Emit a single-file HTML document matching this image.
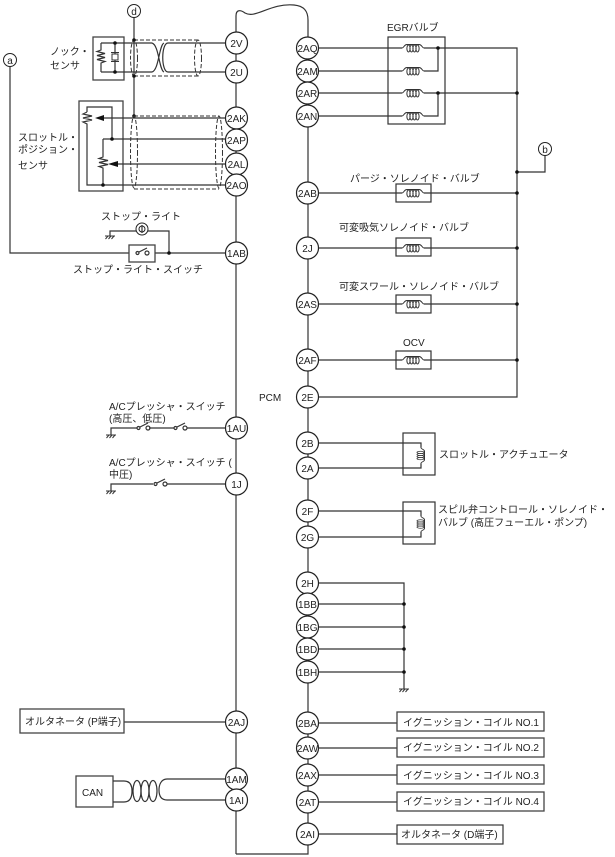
<!DOCTYPE html>
<html><head><meta charset="utf-8"><style>
html,body{margin:0;padding:0;background:#fff;width:615px;height:857px;overflow:hidden}
svg{display:block}
text{font-family:"Liberation Sans","Noto Sans CJK JP",sans-serif;font-size:10px;fill:#222}
.c text,text.c{text-anchor:middle}
.w{fill:none;stroke:#333;stroke-width:1.2}
.t{fill:none;stroke:#333;stroke-width:1}
.d{fill:none;stroke:#333;stroke-width:1;stroke-dasharray:4 2}
.n circle{fill:#fff;stroke:#222;stroke-width:1.2}
.b{fill:#fff;stroke:#444;stroke-width:1.3}
</style></head><body>
<svg width="615" height="857" viewBox="0 0 615 857" xmlns="http://www.w3.org/2000/svg">
<defs>
<g id="coil"><rect x="-11" y="-5" width="22" height="10" fill="#fff"/><path class="t" d="M-11 0C-9 0-9-3.500-6-3.500H6C9-3.500 9 0 11 0"/><ellipse class="t" cx="-4.500" cy="0.500" rx="1.600" ry="3.500"/><ellipse class="t" cx="-1.500" cy="0.500" rx="1.600" ry="3.500"/><ellipse class="t" cx="1.500" cy="0.500" rx="1.600" ry="3.500"/><ellipse class="t" cx="4.500" cy="0.500" rx="1.600" ry="3.500"/></g>
<g id="gnd"><path class="t" d="M-5 0H5M-4.500 3L-2 0M-1.500 3L1 0M1.500 3L4 0"/></g>
<g id="sw"><path class="w" d="M-6 0A1.500 1.500 0 1 0-3 0A1.500 1.500 0 1 0-6 0M3 0A2 2 0 1 0 7 0A2 2 0 1 0 3 0M-3-1L5-5"/></g>
<circle id="dot" r="1.800" fill="#111"/>
</defs>

<!-- PCM outline -->
<path class="w" d="M236 854V16C236 9 241 10 245 13C256 19 270 3 294 5C304 6 308 11 308 20V854H236" stroke-width="1.300"/>

<!-- right wires -->
<path class="w" d="M318 48H517V397H318M318 71H438V48M318 93H517M438 93V116H318"/>
<path class="w" d="M318 193H517M318 248H517M318 304H517M318 360H517M517 172H545V155"/>
<rect class="w" x="388" y="37" width="57" height="87"/>
<use href="#coil" x="413" y="48"/><use href="#coil" x="413" y="71"/><use href="#coil" x="413" y="93"/><use href="#coil" x="413" y="116"/>
<rect class="w" x="396" y="184" width="35" height="18"/><rect class="w" x="396" y="238" width="35" height="18"/><rect class="w" x="396" y="295" width="35" height="18"/><rect class="w" x="396" y="351" width="35" height="18"/>
<use href="#coil" x="413" y="193"/><use href="#coil" x="413" y="248"/><use href="#coil" x="413" y="304"/><use href="#coil" x="413" y="360"/>
<use href="#dot" x="438" y="48"/><use href="#dot" x="438" y="93"/><use href="#dot" x="517" y="93"/><use href="#dot" x="517" y="172"/><use href="#dot" x="517" y="193"/><use href="#dot" x="517" y="248"/><use href="#dot" x="517" y="304"/><use href="#dot" x="517" y="360"/>
<circle cx="545" cy="149" r="6.500" fill="#fff" stroke="#222"/><text class="c" x="545" y="153">b</text>

<!-- actuators -->
<rect class="w" x="403" y="433" width="32" height="42"/><rect class="w" x="403" y="502" width="32" height="42"/>
<path class="w" d="M318 443H421V450M421 461V468H318M318 511H421V518M421 530V537H318"/>
<g transform="translate(421,455.500) rotate(90)"><use href="#coil" transform="scale(0.7,1)"/></g>
<g transform="translate(421,524) rotate(90)"><use href="#coil" transform="scale(0.7,1)"/></g>
<path class="w" d="M318 583H404V689M318 604H404M318 627H404M318 649H404M318 672H404"/>
<use href="#dot" x="404" y="604"/><use href="#dot" x="404" y="627"/><use href="#dot" x="404" y="649"/><use href="#dot" x="404" y="672"/>
<use href="#gnd" x="404" y="689"/>

<!-- ignition -->
<path class="w" d="M318 723H397M318 748H397M318 775H397M318 802H397M318 834H397"/>
<rect class="b" x="397" y="712" width="147" height="19"/><rect class="b" x="397" y="738" width="147" height="19"/><rect class="b" x="397" y="765" width="147" height="19"/><rect class="b" x="397" y="792" width="147" height="19"/><rect class="w" x="397" y="825" width="106" height="19"/>

<!-- knock -->
<rect class="b" x="93" y="37" width="31" height="43"/>
<path class="w" d="M134 17V116M101 43H152M168 43H225M101 72H152M168 72H225M101 43V50L97 51.500L105 53.500L97 55.500L105 57.500L97 59.500L105 61.500L101 63V72M115 43V54M115 60V72"/>
<rect class="t" x="112" y="54" width="6" height="6"/><path class="t" d="M111 52.500H119M111 61.500H119"/>
<path class="w" d="M152 43C159 45 159 70 164 72M152 72C159 70 159 45 164 43M168 43C161 43 161 72 168 72"/>
<path class="d" d="M134 40H198M134 76H198"/><ellipse class="d" cx="134" cy="58" rx="3.500" ry="18"/><ellipse class="d" cx="198" cy="58" rx="3.500" ry="18"/>
<use href="#dot" x="115" y="43"/><use href="#dot" x="115" y="72"/><use href="#dot" x="134" y="40"/><use href="#dot" x="134" y="76"/><use href="#dot" x="134" y="116"/>
<circle cx="134" cy="11" r="6.500" fill="#fff" stroke="#222"/><text class="c" x="134" y="15">d</text>

<!-- throttle position -->
<rect class="b" x="79" y="101" width="44" height="90"/>
<path class="w" d="M87 112V107H112V139M87 112L83 114L92 116L83 118L92 120L83 122L87 124V185H225M103 139H225M103 139V157L99 158.500L108 160.500L99 162.500L108 164.500L99 166.500L103 168V185M100 118H225M116 164H225" />
<path d="M95 118L104 115V121Z M108 164L118 161V167Z" fill="#111"/>
<use href="#dot" x="112" y="139"/><use href="#dot" x="103" y="185"/>
<path class="d" d="M134 116H219M134 189H219"/><ellipse class="d" cx="134" cy="152" rx="3.500" ry="36"/><ellipse class="d" cx="219" cy="152" rx="3.500" ry="36"/>

<!-- stop -->
<path class="w" d="M10 67V253H129M155 253H225M169 253V231H148M136 231H110V236"/>
<rect class="b" x="129" y="245" width="26" height="17" style="fill:none"/>
<use href="#sw" x="142" y="253"/><use href="#dot" x="169" y="253"/><use href="#gnd" x="110" y="236"/>
<circle cx="142" cy="229" r="6" fill="#fff" stroke="#222"/><circle cx="142" cy="229" r="3" fill="none" stroke="#222"/><path class="w" d="M142 225V233"/>
<circle cx="10" cy="60" r="6.500" fill="#fff" stroke="#222"/><text class="c" x="10" y="64">a</text>

<!-- A/C -->
<path class="w" d="M111 435V428H137M149 428H174M187 428H225M111 491V484H153M167 484H225"/>
<use href="#sw" x="143" y="428"/><use href="#sw" x="180" y="428"/><use href="#sw" x="160" y="484"/><use href="#gnd" x="111" y="435"/><use href="#gnd" x="111" y="491"/>

<!-- alternator + CAN -->
<path class="w" d="M124 722H225"/><rect class="b" x="20" y="709" width="104" height="24" style="fill:none"/>
<rect class="b" x="76" y="776" width="37" height="31"/>
<path class="w" d="M113 781H124C130 781 132 785 132 791C132 797 130 802 124 802H113M225 779H167C161 779 159 785 159 790C159 796 161 800 167 800H225"/>
<ellipse class="w" cx="137" cy="791" rx="4" ry="10.500"/><ellipse class="w" cx="145" cy="791" rx="4" ry="10.500"/><ellipse class="w" cx="153" cy="791" rx="4" ry="10.500"/>

<!-- nodes -->
<g class="n c">
<circle cx="236.500" cy="43" r="11"/><text x="236.500" y="47">2V</text>
<circle cx="236.500" cy="72" r="11"/><text x="236.500" y="76">2U</text>
<circle cx="236.500" cy="118" r="11"/><text x="236.500" y="122">2AK</text>
<circle cx="236.500" cy="140" r="11"/><text x="236.500" y="144">2AP</text>
<circle cx="236.500" cy="164" r="11"/><text x="236.500" y="168">2AL</text>
<circle cx="236.500" cy="185" r="11"/><text x="236.500" y="189">2AO</text>
<circle cx="236.500" cy="253" r="11"/><text x="236.500" y="257">1AB</text>
<circle cx="236.500" cy="428" r="11"/><text x="236.500" y="432">1AU</text>
<circle cx="236.500" cy="484" r="11"/><text x="236.500" y="488">1J</text>
<circle cx="236.500" cy="722" r="11"/><text x="236.500" y="726">2AJ</text>
<circle cx="236.500" cy="779" r="11"/><text x="236.500" y="783">1AM</text>
<circle cx="236.500" cy="800" r="11"/><text x="236.500" y="804">1AI</text>
<circle cx="307.500" cy="48" r="11"/><text x="307.500" y="52">2AQ</text>
<circle cx="307.500" cy="71" r="11"/><text x="307.500" y="75">2AM</text>
<circle cx="307.500" cy="93" r="11"/><text x="307.500" y="97">2AR</text>
<circle cx="307.500" cy="116" r="11"/><text x="307.500" y="120">2AN</text>
<circle cx="307.500" cy="193" r="11"/><text x="307.500" y="197">2AB</text>
<circle cx="307.500" cy="248" r="11"/><text x="307.500" y="252">2J</text>
<circle cx="307.500" cy="304" r="11"/><text x="307.500" y="308">2AS</text>
<circle cx="307.500" cy="360" r="11"/><text x="307.500" y="364">2AF</text>
<circle cx="307.500" cy="397" r="11"/><text x="307.500" y="401">2E</text>
<circle cx="307.500" cy="443" r="11"/><text x="307.500" y="447">2B</text>
<circle cx="307.500" cy="468" r="11"/><text x="307.500" y="472">2A</text>
<circle cx="307.500" cy="511" r="11"/><text x="307.500" y="515">2F</text>
<circle cx="307.500" cy="537" r="11"/><text x="307.500" y="541">2G</text>
<circle cx="307.500" cy="583" r="11"/><text x="307.500" y="587">2H</text>
<circle cx="307.500" cy="604" r="11"/><text x="307.500" y="608">1BB</text>
<circle cx="307.500" cy="627" r="11"/><text x="307.500" y="631">1BG</text>
<circle cx="307.500" cy="649" r="11"/><text x="307.500" y="653">1BD</text>
<circle cx="307.500" cy="672" r="11"/><text x="307.500" y="676">1BH</text>
<circle cx="307.500" cy="723" r="11"/><text x="307.500" y="727">2BA</text>
<circle cx="307.500" cy="748" r="11"/><text x="307.500" y="752">2AW</text>
<circle cx="307.500" cy="775" r="11"/><text x="307.500" y="779">2AX</text>
<circle cx="307.500" cy="802" r="11"/><text x="307.500" y="806">2AT</text>
<circle cx="307.500" cy="834" r="11"/><text x="307.500" y="838">2AI</text>
</g>

<!-- labels -->
<text x="50" y="55">ノック・</text><text x="50" y="69">センサ</text>
<text x="18" y="141">スロットル・</text><text x="18" y="153">ポジション・</text><text x="18" y="169">センサ</text>
<text x="101" y="220">ストップ・ライト</text>
<text x="73" y="273">ストップ・ライト・スイッチ</text>
<text x="259" y="401">PCM</text>
<text x="387" y="31">EGRバルブ</text>
<text x="350" y="182">パージ・ソレノイド・バルブ</text>
<text x="339" y="231">可変吸気ソレノイド・バルブ</text>
<text x="339" y="290">可変スワール・ソレノイド・バルブ</text>
<text x="403" y="346">OCV</text>
<text x="109" y="410">A/Cプレッシャ・スイッチ</text><text x="109" y="422">(高圧、低圧)</text>
<text x="109" y="466">A/Cプレッシャ・スイッチ (</text><text x="109" y="478">中圧)</text>
<text x="439" y="458">スロットル・アクチュエータ</text>
<text x="438" y="513">スピル弁コントロール・ソレノイド・</text>
<text x="438" y="526">バルブ (高圧フューエル・ポンプ)</text>
<text x="25" y="725">オルタネータ (P端子)</text>
<text x="82" y="796">CAN</text>
<text x="403" y="726">イグニッション・コイル NO.1</text>
<text x="403" y="751">イグニッション・コイル NO.2</text>
<text x="403" y="779">イグニッション・コイル NO.3</text>
<text x="403" y="805">イグニッション・コイル NO.4</text>
<text x="401" y="838">オルタネータ (D端子)</text>
</svg>
</body></html>
